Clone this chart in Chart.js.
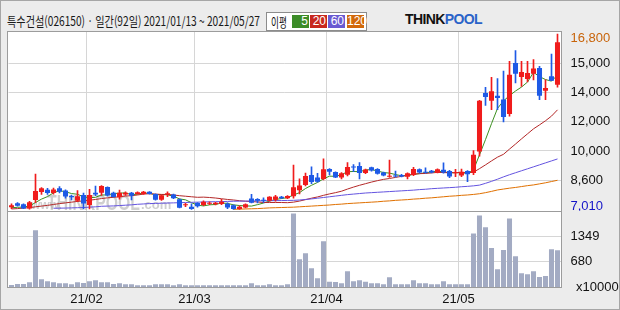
<!DOCTYPE html>
<html>
<head>
<meta charset="utf-8">
<script src="https://cdn.jsdelivr.net/npm/chart.js@4.4.1/dist/chart.umd.min.js"></script>
<style>
  html, body { margin: 0; padding: 0; }
  body { width: 620px; height: 310px; background: #ececec; position: relative; overflow: hidden; font-family: "Liberation Sans", Arial, sans-serif; }
  #frame { position: absolute; left: 0; top: 0; width: 618px; height: 308px; border: 1px solid #a6a6a6; }
  #title { position: absolute; left: 7px; top: 12px; font: 13px "Noto Sans CJK KR", sans-serif; color: #1a1a1a; white-space: nowrap; transform-origin: 0 0; line-height: 17px; }
  #legend { position: absolute; left: 266px; top: 12px; width: 99px; height: 17px; background: #fff; border: 1px solid #8c8c8c; }
  #legend span { position: absolute; top: 2px; width: 17px; height: 13px; font: 12px "Liberation Sans", Arial, sans-serif; color: #fff; text-align: right; line-height: 13px; padding-right: 1px; box-sizing: border-box; }
  #legend span.lbl { left: 4px; top: 0; width: auto; height: 17px; color: #111; font: 13px "Noto Sans CJK KR", sans-serif; line-height: 17px; text-align: left; transform: scaleX(0.66); transform-origin: 0 0; }
  #logo { position: absolute; left: 405px; top: 11px; font: bold 14px "Liberation Sans", Arial, sans-serif; letter-spacing: -0.6px; color: #111; }
  #logo b { color: #2a63c8; }
  .pane { position: absolute; left: 0; width: 620px; }
  #unit { position: absolute; left: 576px; top: 279px; font: 13px "Liberation Sans", Arial, sans-serif; color: #111; }
</style>
</head>
<body>
<div id="frame"></div>
<div id="title">특수건설(026150) · 일간(92일) 2021/01/13 ~ 2021/05/27</div>
<div id="legend">
  <span class="lbl">이평</span>
  <span style="left:25px;background:#3c8c28">5</span>
  <span style="left:43px;background:#c8281e">20</span>
  <span style="left:61px;background:#6a5ad2">60</span>
  <span style="left:80px;background:#d2690a">120</span>
</div>
<div id="logo">THINK<b>POOL</b></div>
<div class="pane" style="top:0;height:211px"><canvas id="price"></canvas></div>
<div class="pane" style="top:211px;height:99px"><canvas id="volume"></canvas></div>
<div id="unit">x10000</div>

<script>
// 거래일 (2021)
const dates = ['01/13','01/14','01/15','01/18','01/19','01/20','01/21','01/22','01/25','01/26','01/27','01/28','01/29',
  '02/01','02/02','02/03','02/04','02/05','02/08','02/09','02/10','02/15','02/16','02/17','02/18','02/19','02/22','02/23','02/24','02/25','02/26',
  '03/02','03/03','03/04','03/05','03/08','03/09','03/10','03/11','03/12','03/15','03/16','03/17','03/18','03/19','03/22','03/23','03/24','03/25','03/26','03/29','03/30','03/31',
  '04/01','04/02','04/05','04/06','04/07','04/08','04/09','04/12','04/13','04/14','04/15','04/16','04/19','04/20','04/21','04/22','04/23','04/26','04/27','04/28','04/29','04/30',
  '05/03','05/04','05/06','05/07','05/10','05/11','05/12','05/13','05/14','05/17','05/18','05/20','05/21','05/24','05/25','05/26','05/27'];

const opens = [7140,7360,7300,7060,7540,7990,8110,7930,8200,8070,7760,7500,7820,7260,7950,7950,8260,7950,7690,7840,
  7950,7880,7870,8000,7870,7550,7840,7840,7580,7250,7170,7370,7260,7330,7300,7310,7330,7250,7040,7120,
  7630,7600,7560,7500,7560,7720,7640,7750,8080,8380,8935,8790,8710,9270,9100,8790,8950,9400,9430,9040,
  9360,9270,9080,8840,8890,8940,8840,8940,9260,9100,9170,9060,9230,9160,9030,8900,9160,9040,10250,13510,
  13080,13360,13140,12340,15180,14400,14290,14585,14906,13637,14440,13972];
const highs = [7320,7390,7320,7470,8990,8230,8190,8210,8290,8110,7820,8060,7920,8140,8320,8340,8280,7980,8100,7990,
  7970,7990,8020,8010,7880,7820,8000,7870,7600,7360,7320,7400,7500,7440,7410,7580,7380,7270,7210,7320,
  7860,7620,7660,7730,7800,7740,7780,9490,8720,9040,9390,9030,9830,9290,9110,9070,9630,9510,9630,9260,
  9380,9290,9100,9770,9160,8970,9060,9360,9280,9340,9200,9280,9620,9200,9250,9270,9180,10290,13100,13830,
  14380,14310,14730,15280,15870,15280,15280,15370,15000,14240,15680,16800];
const lows = [7060,7190,7050,7030,7390,7850,7850,7860,7930,7640,7540,7440,7040,7040,7780,7790,7760,7700,7580,7800,
  7540,7860,7850,7860,7530,7520,7730,7620,7100,7170,7020,7140,7230,7280,7260,7280,7060,7010,7020,7100,
  7370,7380,7400,7480,7480,7620,7620,7640,7880,8330,8450,8540,8660,8935,8790,8720,8880,9120,8710,9010,
  9150,8980,8880,8800,8820,8830,8710,8900,9040,9030,9050,9050,9040,8790,8840,8840,8560,8950,9980,12820,
  12580,12580,11890,12210,14070,13880,14130,14235,13135,13135,14190,13830];
const closes = [7240,7220,7060,7420,8040,8200,7930,8120,8000,7730,7700,7750,7350,7820,7840,8320,7790,7710,7940,7950,
  7770,7970,8000,7870,7550,7800,7910,7640,7110,7270,7040,7190,7445,7380,7380,7440,7120,7040,7170,7300,
  7390,7500,7500,7720,7740,7640,7760,8250,8350,8880,8550,8560,9260,9110,8800,9030,9380,9350,9040,9240,
  9180,9000,8900,8860,8850,8850,9030,9270,9070,9060,9070,9260,9070,8850,9070,9120,8980,10060,13080,13285,
  13600,13229,12170,14530,14585,14680,14624,14869,13358,13786,14199,16344];

// 거래량 (x10000)
const volumes = [54,80,80,126,1518,206,153,126,99,99,72,126,108,153,179,126,126,80,99,72,
  72,45,45,45,72,72,72,45,72,45,45,45,45,45,45,45,45,45,45,45,
  100,45,45,72,45,45,72,1973,742,902,500,233,1223,144,135,99,420,153,180,144,
  99,99,72,260,72,72,72,180,99,99,72,72,153,72,72,72,72,1437,1919,1598,
  1044,474,990,1839,822,367,340,420,268,295,1009,982];

// 이동평균
const ma5 = [7110,7130,7150,7200,7400,7590,7730,7940,8060,8000,7900,7860,7710,7670,7690,7820,7820,7900,7920,7940,
  7830,7870,7930,7910,7830,7840,7830,7750,7600,7550,7390,7250,7210,7270,7290,7370,7350,7270,7230,7210,
  7200,7280,7370,7480,7570,7620,7670,7820,7950,8180,8360,8520,8720,8870,8860,8950,9120,9130,9120,9210,
  9240,9160,9070,9040,8960,8890,8900,8970,9010,9060,9100,9150,9110,9060,9060,9070,9020,9220,10060,10910,
  11800,12650,13070,13360,13620,13840,14120,14660,14420,14260,14170,14510];
const ma20 = [7040,7060,7090,7110,7160,7200,7240,7290,7340,7380,7420,7460,7490,7530,7570,7620,7660,7690,7720,7760,
  7780,7820,7870,7890,7870,7850,7850,7820,7780,7750,7720,7690,7700,7680,7650,7610,7570,7540,7500,7470,
  7450,7430,7400,7400,7400,7400,7390,7420,7480,7560,7640,7710,7800,7880,7950,8030,8150,8260,8360,8450,
  8540,8620,8690,8740,8800,8860,8920,8980,9010,9020,9050,9080,9070,9060,9070,9080,9060,9090,9290,9500,
  9720,9930,10090,10380,10660,10950,11230,11510,11730,11960,12220,12570];
const ma60 = Array(7).fill(null).concat([7080,7085,7090,7100,7110,7120,7140,7160,7190,7200,7210,7230,7250,
  7270,7300,7320,7340,7350,7360,7370,7380,7390,7400,7410,7420,7430,7440,7445,7450,7460,7470,7475,7480,
  7485,7490,7495,7500,7505,7510,7515,7520,7540,7570,7600,7640,7680,7720,7760,7800,7840,7870,7900,7930,
  7950,7970,7990,8010,8030,8050,8070,8090,8120,8140,8170,8190,8210,8230,8250,8280,8300,8330,8370,8470,
  8580,8700,8830,8950,9060,9170,9280,9390,9500,9610,9720,9830]);
const ma120 = Array(37).fill(null).concat([7020,7030,7040,
  7050,7060,7080,7100,7110,7120,7130,7140,7160,7180,7200,7220,7240,7260,7290,7310,7340,7360,7380,7400,
  7420,7440,7470,7490,7520,7540,7560,7590,7610,7640,7660,7690,7720,7750,7770,7800,7820,7850,7890,7950,
  8020,8100,8150,8200,8240,8290,8340,8380,8440,8500,8570,8640]);

const yTickLabels = ['7,010','8,600','10,000','12,000','14,000','15,000','16,800'];
const yTickColors = ['#1414c8','#111','#111','#111','#111','#111','#c8640a'];
const volTickValues = [680, 1349];
const volTickLabels = ['680', '1349'];
const yearPrefix = '21';

const UP = '#f01c1c', DOWN = '#1e5ae6', GRID = '#d6d6d6', CLEAR = 'rgba(0,0,0,0)';
const candleColors = closes.map((c, i) => c >= opens[i] ? UP : DOWN);
const monthStarts = dates.map((d, i) => (i > 0 && d.slice(0, 2) !== dates[i - 1].slice(0, 2)) ? i : -1).filter(i => i >= 0);

const priceLow = 7010, priceHigh = 16800;
const yMin = 6926, yMax = 16912;
const pxUnit = (yMax - yMin) / 179;
const gridStep = (priceHigh - priceLow) / 6;

const tickFont = { family: 'Liberation Sans', size: 13 };

// 차트 영역 흰 배경 + 테두리
const panel = {
  id: 'panel',
  beforeDraw(chart) {
    const { ctx, chartArea: a } = chart;
    ctx.save();
    ctx.fillStyle = '#fff';
    ctx.fillRect(a.left - 1, a.top, a.right - a.left + 2, a.bottom - a.top);
    ctx.restore();
  },
  afterDraw(chart) {
    const { ctx, chartArea: a } = chart;
    ctx.save();
    ctx.strokeStyle = '#9c9c9c';
    ctx.lineWidth = 1;
    const l = Math.floor(a.left) - 0.5, r = Math.ceil(a.right) + 0.5;
    ctx.strokeRect(l, a.top - 0.5, r - l, a.bottom - a.top + 1);
    ctx.restore();
  }
};

// 워터마크
const watermark = {
  id: 'watermark',
  beforeDatasetsDraw(chart) {
    const { ctx } = chart;
    ctx.save();
    ctx.fillStyle = 'rgba(175,175,175,0.6)';
    ctx.font = 'bold 12px "Liberation Sans"';
    ctx.fillText('www.', 31, 209);
    ctx.font = 'bold 19px "Liberation Sans"';
    const w = ctx.measureText('THINKPOOL').width;
    ctx.translate(47, 210);
    ctx.scale(93 / w, 1.15);
    ctx.fillText('THINKPOOL', 0, 0);
    ctx.restore();
    ctx.save();
    ctx.fillStyle = 'rgba(175,175,175,0.6)';
    ctx.font = 'bold 13px "Liberation Sans"';
    ctx.fillText('.com', 141, 209);
    ctx.restore();
  }
};

// 눈금 라벨 때문에 차트 영역이 줄어들지 않게
function noPad(s) {
  s.paddingTop = 0; s.paddingBottom = 0; s.paddingLeft = 0; s.paddingRight = 0;
}

function xAxis(showLabels) {
  return {
    type: 'category',
    offset: true,
    grid: { offset: true, drawTicks: false, color: c => monthStarts.includes(c.index) ? GRID : CLEAR },
    border: { display: false },
    ticks: {
      display: showLabels, autoSkip: false, maxRotation: 0, padding: 5, labelOffset: -3,
      font: tickFont, color: '#111',
      callback: (v, i) => monthStarts.includes(i) ? yearPrefix + '/' + dates[i].slice(0, 2) : ''
    },
    afterFit: s => { s.height = showLabels ? 23 : 0; noPad(s); }
  };
}

function lineSet(data, color) {
  return { type: 'line', data: data, borderColor: color, borderWidth: 1, pointRadius: 0, fill: false, tension: 0, order: 3 };
}

new Chart(document.getElementById('price'), {
  type: 'bar',
  data: {
    labels: dates,
    datasets: [
      { data: opens.map((o, i) => [o, closes[i]]), backgroundColor: candleColors, grouped: false,
        barPercentage: 0.84, categoryPercentage: 1, minBarLength: 1, order: 0 },
      { data: lows.map((l, i) => [l, highs[i]]), backgroundColor: candleColors, grouped: false,
        barThickness: 1, order: 1 },
      lineSet(ma120, '#e07000'),
      lineSet(ma60, '#6454e0'),
      lineSet(ma20, '#b42828'),
      lineSet(ma5, '#3c9020')
    ]
  },
  options: {
    responsive: true,
    maintainAspectRatio: false,
    animation: false,
    layout: { padding: { left: 8.5, top: 32, right: 0, bottom: 0 } },
    plugins: { legend: { display: false }, tooltip: { enabled: false } },
    scales: {
      x: xAxis(false),
      y: {
        position: 'right',
        min: yMin,
        max: yMax,
        afterBuildTicks: s => {
          s.ticks = yTickLabels.map((_, k) => {
            let v = priceLow + k * gridStep;
            if (k === 0) v += 2.8 * pxUnit;
            if (k === yTickLabels.length - 1) v -= 4 * pxUnit;
            return { value: v };
          });
        },
        afterFit: s => { s.width = 59.5; noPad(s); },
        grid: { drawTicks: false, color: c => (c.index === 0 || c.index === yTickLabels.length - 1) ? CLEAR : GRID },
        border: { display: false },
        ticks: { padding: 10, font: tickFont, color: c => yTickColors[c.index], callback: (v, i) => yTickLabels[i] }
      }
    }
  },
  plugins: [panel, watermark]
});

new Chart(document.getElementById('volume'), {
  type: 'bar',
  data: {
    labels: dates,
    datasets: [
      { data: volumes, backgroundColor: '#a3abc3', barPercentage: 0.84, categoryPercentage: 1 }
    ]
  },
  options: {
    responsive: true,
    maintainAspectRatio: false,
    animation: false,
    layout: { padding: { left: 8.5, top: 1, right: 0, bottom: 0 } },
    plugins: { legend: { display: false }, tooltip: { enabled: false } },
    scales: {
      x: xAxis(true),
      y: {
        position: 'right',
        min: 0,
        max: 2010,
        afterBuildTicks: s => { s.ticks = volTickValues.map(v => ({ value: v })); },
        afterFit: s => { s.width = 59.5; noPad(s); },
        grid: { drawTicks: false, color: GRID },
        border: { display: false },
        ticks: { padding: 10, font: tickFont, color: '#111', callback: (v, i) => volTickLabels[i] }
      }
    }
  },
  plugins: [panel]
});

// 제목 폭 맞추기
const title = document.getElementById('title');
title.style.transform = 'scaleX(' + (253 / title.offsetWidth) + ')';
</script>
</body>
</html>
